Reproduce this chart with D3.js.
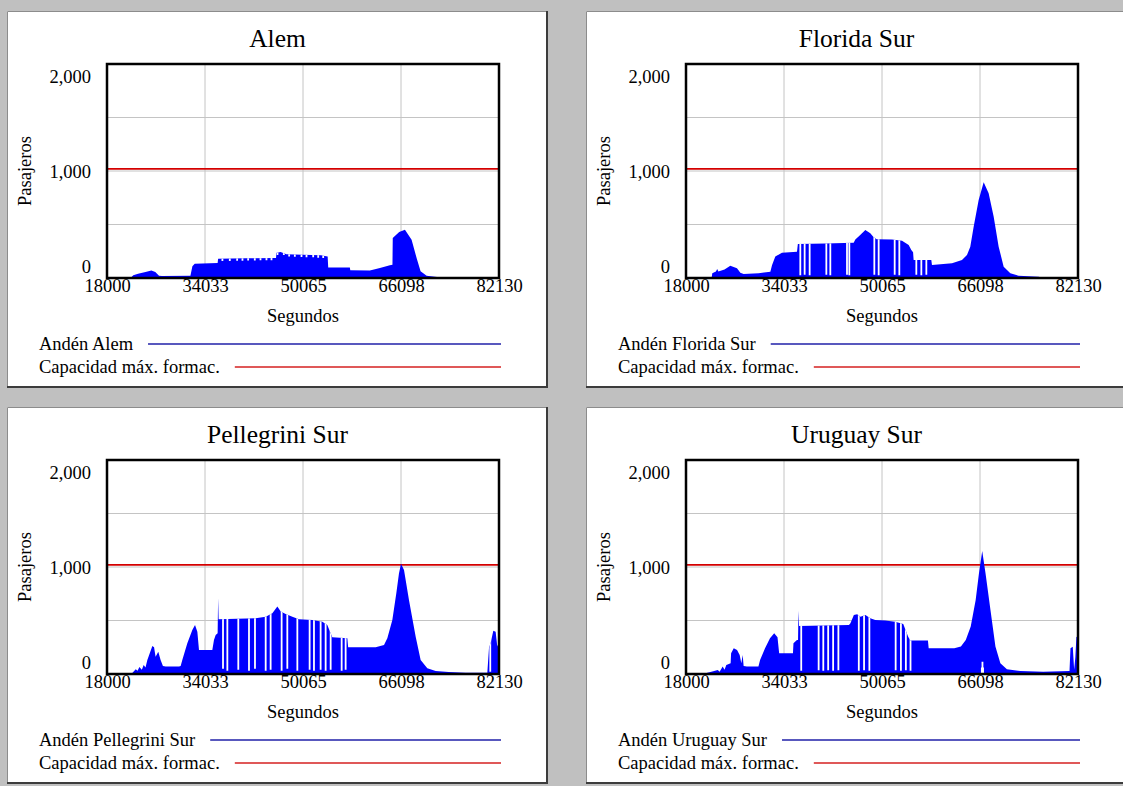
<!DOCTYPE html>
<html>
<head>
<meta charset="utf-8">
<script src="https://cdn.jsdelivr.net/npm/d3@7"></script>
<style>
  body { margin: 0; background: #c0c0c0; }
  svg { display: block; }
  text { font-family: "Liberation Serif", "DejaVu Serif", serif; fill: #000; }
</style>
</head>
<body>
<svg id="charts"></svg>
<script>
const WIDTH = 1123;
const HEIGHT = 786;

// Chart data
const titles = ['Alem', 'Florida Sur', 'Pellegrini Sur', 'Uruguay Sur'];
const seriesLabels = ['Andén Alem', 'Andén Florida Sur', 'Andén Pellegrini Sur', 'Andén Uruguay Sur'];
const capacityLabel = 'Capacidad máx. formac.';
const xLabel = 'Segundos';
const yLabel = 'Pasajeros';
const xTicks = [18000, 34033, 50065, 66098, 82130];
const yTicks = [0, 1000, 2000];
const yGrid = [500, 1000, 1500];
const capacity = 1020;

// [segundos, pasajeros] envelope of each platform
const alemSeries = [[18000,0],[21900,2],[22300,25],[23080,40],[24300,55],[25260,71],[25900,55],[26510,22],[27000,19],
  [31650,20],[31970,110],[32350,134],[36100,140],[36180,180],[40810,184],[45650,188],[45730,236],[46400,242],
  [47360,222],[50000,218],[53000,212],[53640,206],[54100,200],[54190,99],[57730,97],[57800,72],[61010,70],
  [62650,93],[64280,118],[64700,124],[64750,374],[65800,430],[66740,452],[67830,358],[68650,187],[69300,62],
  [70290,22],[72000,10],[74600,3],[82130,2]];
const floridaSeries = [[18000,0],[22200,5],[22300,45],[22900,60],[23100,85],[23300,60],[24300,80],[25250,115],
  [26340,90],[26890,50],[27430,37],[29890,44],[31800,59],[32070,120],[32610,200],[33700,237],[36160,246],
  [36300,318],[40790,322],[45430,330],[45700,360],[46500,402],[47340,449],[48150,418],[48700,380],[49200,362],
  [51700,360],[53340,349],[54430,309],[54860,262],[55150,240],[55240,168],[58130,168],[58240,122],[61520,137],
  [63150,168],[63970,215],[64510,293],[65060,480],[65880,729],[66700,895],[67510,792],[68330,574],[69150,293],
  [69970,106],[71060,44],[72400,22],[75690,12],[76300,3],[82130,2]];
const pellegriniSeries = [[18000,0],[21900,3],[22140,10],[22700,45],[23000,30],[23300,65],[23700,40],[24000,84],
  [24300,60],[24600,131],[25420,262],[25700,250],[25950,162],[26390,209],[26770,131],[27150,75],[27600,69],
  [29780,69],[30050,75],[30320,131],[31140,287],[31960,411],[32400,458],[32780,396],[33050,224],[35230,224],
  [35500,318],[35780,365],[36100,380],[36180,708],[36260,511],[42320,520],[43960,536],[45050,567],[45870,630],
  [46420,583],[47230,561],[48320,536],[49410,511],[51590,505],[53230,489],[54040,458],[54860,343],[57320,333],
  [57450,249],[61950,249],[63320,271],[63860,333],[64680,505],[65330,754],[65770,941],[66100,1030],[66590,972],
  [67400,692],[68500,349],[69310,131],[70400,53],[71770,28],[73900,19],[76680,12],[80220,12],[80490,240],
  [80800,300],[81200,405],[81580,396],[81850,256],[82130,300]];
const uruguaySeries = [[18000,0],[20960,3],[21500,12],[22000,19],[23200,37],[23500,20],[24000,69],[24300,40],
  [24600,84],[25300,100],[25380,193],[25810,240],[26350,224],[26780,178],[27050,100],[27270,178],[27430,75],
  [27960,69],[29850,69],[30120,131],[30930,240],[31740,333],[32430,380],[32970,343],[33240,193],[35500,193],
  [35580,287],[36150,318],[36330,318],[36400,592],[36500,449],[44660,458],[44900,474],[45460,552],[46000,558],
  [46540,536],[47350,552],[48150,521],[48960,505],[50580,499],[52200,489],[53540,468],[54350,349],[54700,312],
  [57580,312],[57700,240],[61890,240],[62970,256],[63770,318],[64580,443],[65390,692],[65930,941],[66460,1150],
  [67000,941],[67810,598],[68620,256],[69430,100],[70500,44],[72700,28],[76430,22],[80740,28],[80900,240],
  [81270,255],[81500,40],[81700,160],[81870,349],[82130,340]];

// White gaps where a train empties the platform: [segundos, low, high]
const alemGaps = [[36880,160],[38090,160],[39290,162],[40160,162],[41090,163],[42180,164],[43110,165],[44090,166],
  [44910,166],[45890,215],[46930,215],[47800,200],[48730,198],[49820,196],[50640,195],[51730,193],[52550,190],[53370,188]];
const floridaGaps = [[36700,25],[37410,30],[38230,25],[40960,30],[41610,25],[44340,30],[44720,25],[48810,30],
  [49520,25],[52140,30],[52900,25],[55680,30],[56500,25],[57320,30]];
const pellegriniGaps = [[36980,50],[37690,30],[39480,40],[41230,30],[42210,50],[43960,30],[44770,40],[46570,30],
  [47500,50],[49140,30],[51150,40],[51860,30],[52950,40],[53770,30],[54590,40],[56390,30],[57040,40],[80700,20]];
const uruguayGaps = [[36850,30],[39700,35],[40460,30],[41260,35],[42070,30],[42930,35],[46270,30],[47130,35],
  [48000,30],[52300,35],[53160,30],[53970,35],[54730,30],[66400,0,60],[66500,0,115],[66600,0,60]];

const stations = [
  { title: titles[0], label: seriesLabels[0], series: alemSeries, gaps: alemGaps },
  { title: titles[1], label: seriesLabels[1], series: floridaSeries, gaps: floridaGaps },
  { title: titles[2], label: seriesLabels[2], series: pellegriniSeries, gaps: pellegriniGaps },
  { title: titles[3], label: seriesLabels[3], series: uruguaySeries, gaps: uruguayGaps }
];

// Layout
const PANEL_W = 541;
const PANEL_H = 377;
const panelOrigins = [[7, 11], [586, 11], [7, 407], [586, 407]];
const plot = { left: 100, top: 53, width: 392, height: 214 };
const smallFont = 18.5;
const FONT = '"Liberation Serif", "DejaVu Serif", serif';

const svg = d3.select('#charts')
    .attr('width', WIDTH)
    .attr('height', HEIGHT)
    .attr('font-family', FONT);

svg.append('rect')
    .attr('width', WIDTH)
    .attr('height', HEIGHT)
    .attr('fill', '#c0c0c0');

function drawPanel(station, i) {
    let [px, py] = panelOrigins[i];
    let panel = svg.append('g')
        .attr('transform', `translate(${px}, ${py})`);

    // Window frame
    panel.append('rect')
        .attr('width', PANEL_W)
        .attr('height', PANEL_H)
        .attr('fill', '#fff');
    panel.append('path')
        .attr('d', `M0.5,${PANEL_H} V0.5 H${PANEL_W}`)
        .attr('fill', 'none')
        .attr('stroke', '#8c8c8c')
        .attr('stroke-width', 1);
    panel.append('path')
        .attr('d', `M0,${PANEL_H - 1} H${PANEL_W - 1} V0`)
        .attr('fill', 'none')
        .attr('stroke', '#3c3c3c')
        .attr('stroke-width', 2);

    panel.append('text')
        .attr('x', PANEL_W / 2)
        .attr('y', 36)
        .attr('text-anchor', 'middle')
        .attr('font-family', FONT)
        .attr('font-size', 25.5)
        .text(station.title);

    let xScale = d3.scaleLinear()
        .domain([xTicks[0], xTicks[xTicks.length - 1]])
        .range([0, plot.width]);
    let yScale = d3.scaleLinear()
        .domain([0, 2000])
        .range([plot.height, 0]);

    let chart = panel.append('g')
        .attr('transform', `translate(${plot.left}, ${plot.top})`);

    // Grid
    chart.append('g')
        .selectAll('line')
        .data(xTicks.slice(1, -1))
        .enter().append('line')
        .attr('x1', d => xScale(d))
        .attr('x2', d => xScale(d))
        .attr('y1', 0)
        .attr('y2', plot.height)
        .attr('stroke', '#c4c4c4');
    chart.append('g')
        .selectAll('line')
        .data(yGrid)
        .enter().append('line')
        .attr('x1', 0)
        .attr('x2', plot.width)
        .attr('y1', d => yScale(d))
        .attr('y2', d => yScale(d))
        .attr('stroke', '#c4c4c4');

    // Capacity line
    chart.append('line')
        .attr('x1', 0)
        .attr('x2', plot.width)
        .attr('y1', yScale(capacity))
        .attr('y2', yScale(capacity))
        .attr('stroke', '#d40000')
        .attr('stroke-width', 1.6);

    // Passengers on the platform
    let area = d3.area()
        .x(d => xScale(d[0]))
        .y0(yScale(0))
        .y1(d => yScale(d[1]));

    chart.append('clipPath')
        .attr('id', `area-clip-${i}`)
        .append('path')
        .attr('d', area(station.series));

    chart.append('path')
        .attr('d', area(station.series))
        .attr('fill', '#0000ff');

    chart.append('g')
        .attr('clip-path', `url(#area-clip-${i})`)
        .selectAll('line')
        .data(station.gaps)
        .enter().append('line')
        .attr('x1', d => xScale(d[0]))
        .attr('x2', d => xScale(d[0]))
        .attr('y1', d => yScale(d[1]))
        .attr('y2', d => yScale(d.length > 2 ? d[2] : 2000))
        .attr('stroke', '#fff')
        .attr('stroke-width', 1.8);

    chart.append('rect')
        .attr('width', plot.width)
        .attr('height', plot.height)
        .attr('fill', 'none')
        .attr('stroke', '#000')
        .attr('stroke-width', 2.5);

    // Axes
    let yAxis = chart.append('g')
        .call(d3.axisLeft(yScale)
            .tickValues(yTicks)
            .tickSize(0)
            .tickPadding(16)
            .tickFormat(d3.format(',')))
        .attr('font-size', smallFont)
        .attr('font-family', FONT);
    yAxis.select('.domain').remove();
    yAxis.selectAll('text')
        .attr('fill', '#000')
        .attr('y', d => d === 2000 ? 13 : (d === 0 ? -11 : 0.5));

    let xAxis = chart.append('g')
        .attr('transform', `translate(0, ${plot.height})`)
        .call(d3.axisBottom(xScale)
            .tickValues(xTicks)
            .tickSize(0)
            .tickPadding(1)
            .tickFormat(d3.format('d')))
        .attr('font-size', smallFont)
        .attr('font-family', FONT);
    xAxis.select('.domain').remove();
    xAxis.selectAll('text').attr('fill', '#000');

    chart.append('text')
        .attr('x', plot.width / 2)
        .attr('y', plot.height + 44)
        .attr('text-anchor', 'middle')
        .attr('font-size', smallFont)
        .text(xLabel);

    chart.append('text')
        .attr('transform', `translate(${24 - plot.left}, ${plot.height / 2}) rotate(-90)`)
        .attr('text-anchor', 'middle')
        .attr('font-size', smallFont)
        .text(yLabel);

    // Legend
    let legendRows = [
        { label: station.label, color: '#2020a8', y: 339 },
        { label: capacityLabel, color: '#d42020', y: 362 }
    ];
    legendRows.forEach(row => {
        let txt = panel.append('text')
            .attr('x', 32)
            .attr('y', row.y)
            .attr('font-size', smallFont)
            .text(row.label);
        let textEnd = 32 + txt.node().getComputedTextLength();
        panel.append('line')
            .attr('x1', textEnd + 15)
            .attr('x2', plot.left + plot.width + 2)
            .attr('y1', row.y - 6)
            .attr('y2', row.y - 6)
            .attr('stroke', row.color)
            .attr('stroke-width', 1.3);
    });
}

stations.forEach(drawPanel);
</script>
</body>
</html>
